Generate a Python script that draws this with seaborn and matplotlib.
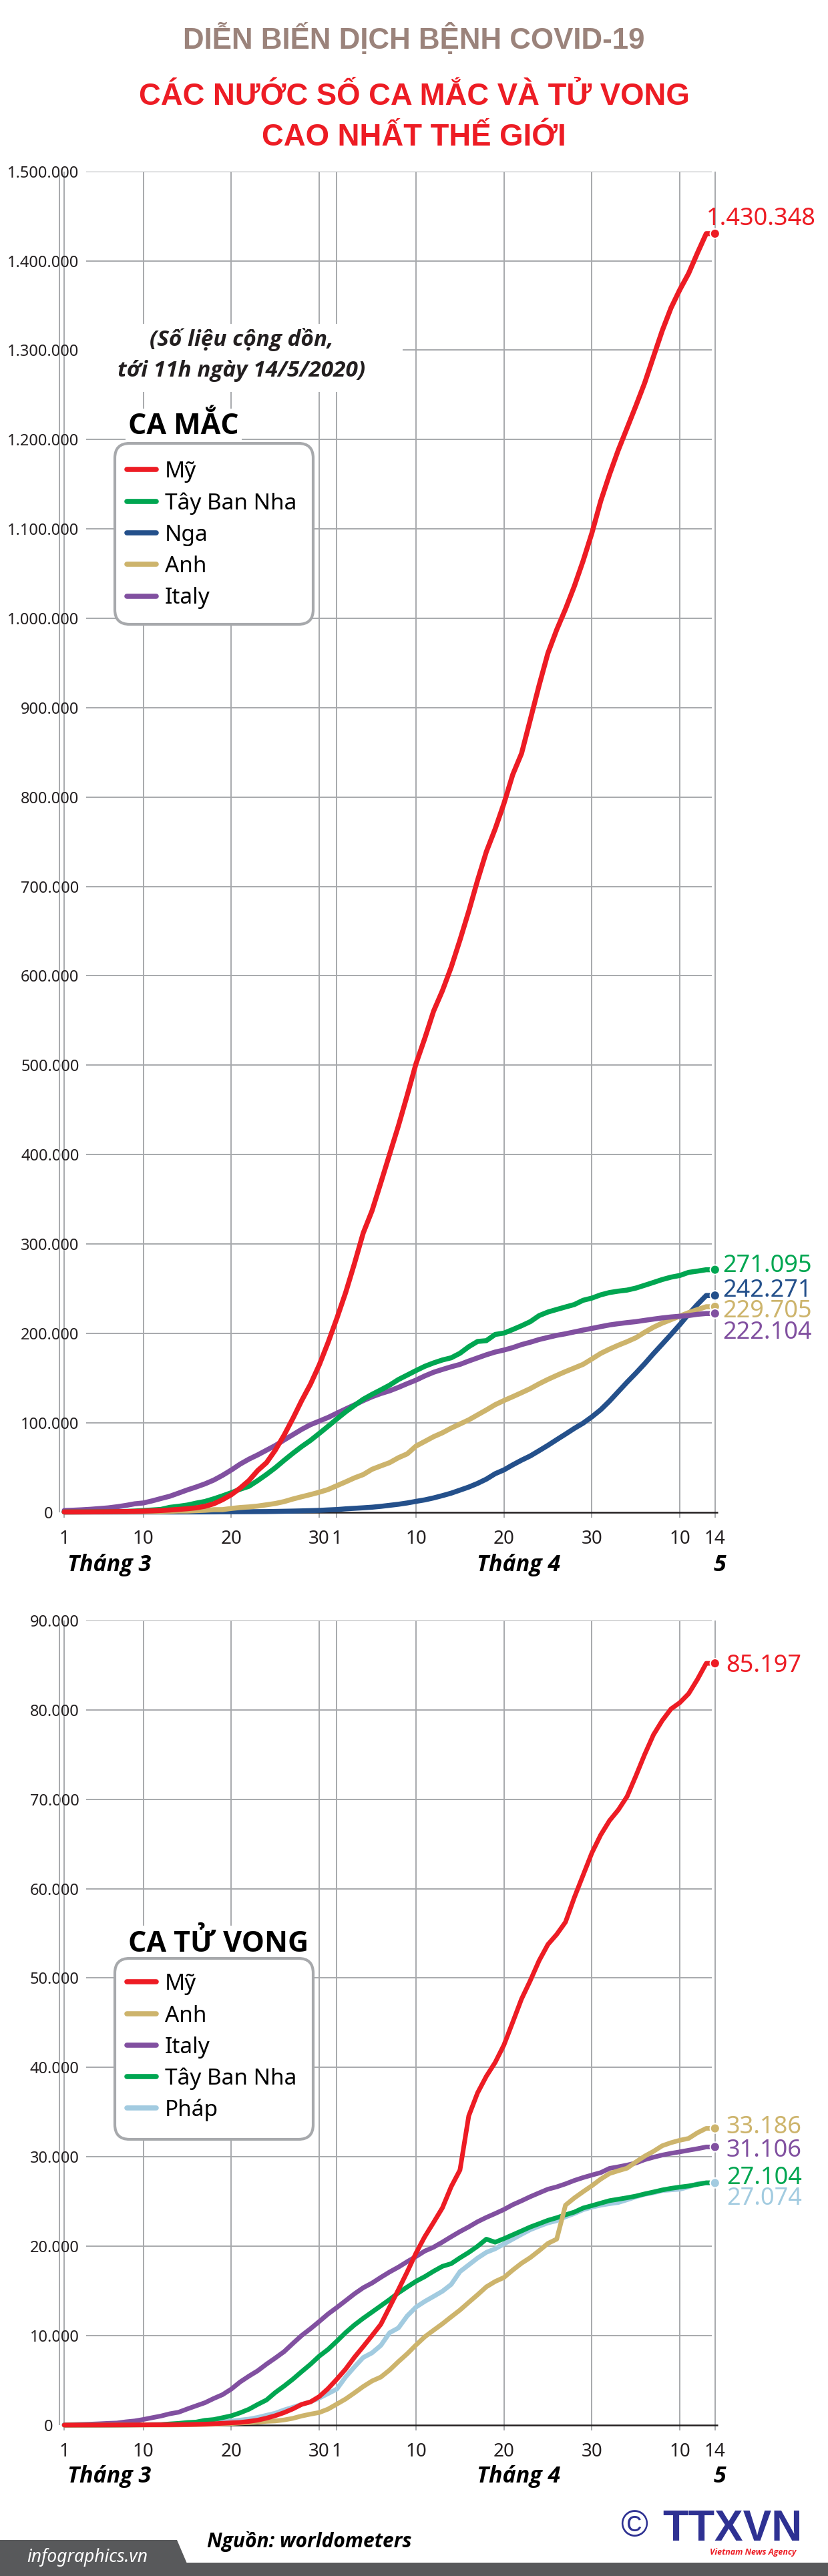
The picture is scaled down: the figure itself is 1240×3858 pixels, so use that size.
import numpy as np
import pandas as pd
import matplotlib
matplotlib.use("Agg")
import matplotlib.pyplot as plt
import seaborn as sns
from matplotlib import font_manager as fm
from matplotlib.transforms import Affine2D
from matplotlib.patches import FancyBboxPatch, Rectangle, Polygon
from matplotlib.lines import Line2D

# ---------------- DATA (values in thousands, Mar 1 .. May 14) ----------------
days = list(range(1, 76))
tick_days = [1, 10, 20, 30, 32, 41, 51, 61, 71, 75]
tick_labels = ["1", "10", "20", "30", "1", "10", "20", "30", "10", "14"]
month_labels = ["Tháng 3", "Tháng 4", "5"]

cases_my = [0.075, 0.100, 0.124, 0.158, 0.221, 0.319, 0.435, 0.541, 0.704, 0.994,
            1.301, 1.697, 2.247, 2.943, 3.680, 4.663, 6.411, 9.197, 13.779, 19.367,
            26.747, 35.206, 46.442, 55.231, 69.194, 85.991, 104.686, 124.665, 143.025, 164.620, 189.618,
            216.722, 245.540, 277.953, 312.245, 337.072, 368.449, 400.335, 432.132, 466.299, 501.615,
            530.006, 560.402, 583.220, 609.516, 640.014, 672.246, 706.779, 738.830, 764.265, 792.759,
            825.041, 848.717, 886.709, 925.038, 960.916, 987.160, 1010.356, 1035.765, 1064.194, 1095.304,
            1131.030, 1160.774, 1188.122, 1212.835, 1237.633, 1263.243, 1292.623, 1321.785, 1347.309, 1367.638,
            1385.834, 1408.636, 1430.348, 1430.348]
cases_tbn = [0.084, 0.120, 0.165, 0.222, 0.259, 0.400, 0.500, 0.673, 1.073, 1.695,
             2.277, 2.950, 5.232, 6.391, 7.798, 9.942, 11.826, 14.769, 18.077, 21.571,
             25.496, 28.768, 35.136, 42.058, 49.515, 57.786, 65.719, 73.235, 80.110, 87.956, 95.923,
             104.118, 112.065, 119.199, 126.168, 131.646, 136.675, 141.942, 148.220, 153.222, 158.273,
             163.027, 166.831, 170.099, 172.541, 177.633, 184.948, 190.839, 191.726, 198.674, 200.210,
             204.178, 208.389, 213.024, 219.764, 223.759, 226.629, 229.422, 232.128, 236.899, 239.369,
             242.988, 245.567, 247.122, 248.301, 250.561, 253.682, 256.855, 260.117, 262.783, 264.663,
             268.143, 269.520, 271.095, 271.095]
cases_nga = [0.002, 0.003, 0.003, 0.003, 0.004, 0.010, 0.014, 0.017, 0.017, 0.020,
             0.028, 0.034, 0.045, 0.059, 0.063, 0.090, 0.114, 0.147, 0.199, 0.253,
             0.306, 0.367, 0.438, 0.495, 0.658, 0.840, 1.036, 1.264, 1.534, 1.836, 2.337,
             2.777, 3.548, 4.149, 4.731, 5.389, 6.343, 7.497, 8.672, 10.131, 11.917,
             13.584, 15.770, 18.328, 21.102, 24.490, 27.938, 32.008, 36.793, 42.853, 47.121,
             52.763, 57.999, 62.773, 68.622, 74.588, 80.949, 87.147, 93.558, 99.399, 106.498,
             114.431, 124.054, 134.687, 145.268, 155.370, 165.929, 177.160, 187.859, 198.676, 209.688,
             221.344, 232.243, 242.271, 242.271]
cases_anh = [0.036, 0.040, 0.051, 0.085, 0.115, 0.163, 0.206, 0.273, 0.321, 0.382,
             0.456, 0.456, 0.798, 1.140, 1.140, 1.543, 1.950, 2.626, 2.689, 3.983,
             5.018, 5.683, 6.650, 8.077, 9.529, 11.658, 14.543, 17.089, 19.522, 22.141, 25.150,
             29.474, 33.718, 38.168, 41.903, 47.806, 51.608, 55.242, 60.733, 65.077, 73.758,
             78.991, 84.279, 88.621, 93.873, 98.476, 103.093, 108.692, 114.217, 120.067, 124.743,
             129.044, 133.495, 138.078, 143.464, 148.377, 152.840, 157.149, 161.145, 165.221, 171.253,
             177.454, 182.260, 186.599, 190.584, 194.990, 201.101, 206.715, 211.364, 215.260, 219.183,
             223.060, 226.463, 229.705, 229.705]
cases_italy = [1.694, 2.036, 2.502, 3.089, 3.858, 4.636, 5.883, 7.375, 9.172, 10.149,
               12.462, 15.113, 17.660, 21.157, 24.747, 27.980, 31.506, 35.713, 41.035, 47.021,
               53.578, 59.138, 63.927, 69.176, 74.386, 80.589, 86.498, 92.472, 97.689, 101.739, 105.792,
               110.574, 115.242, 119.827, 124.632, 128.948, 132.547, 135.586, 139.422, 143.626, 147.577,
               152.271, 156.363, 159.516, 162.488, 165.155, 168.941, 172.434, 175.925, 178.972, 181.228,
               183.957, 187.327, 189.973, 192.994, 195.351, 197.675, 199.414, 201.505, 203.591, 205.463,
               207.428, 209.328, 210.717, 211.938, 213.013, 214.457, 215.858, 217.185, 218.268, 219.070,
               219.814, 221.216, 222.104, 222.104]

deaths_my = [0.001, 0.006, 0.009, 0.011, 0.012, 0.015, 0.019, 0.022, 0.026, 0.030,
             0.038, 0.041, 0.048, 0.057, 0.069, 0.087, 0.110, 0.150, 0.206, 0.255,
             0.301, 0.414, 0.555, 0.780, 1.054, 1.397, 1.812, 2.314, 2.593, 3.193, 4.081,
             5.138, 6.269, 7.588, 8.785, 10.012, 11.268, 13.204, 15.144, 17.134, 19.238,
             21.077, 22.668, 24.294, 26.664, 28.529, 34.590, 37.154, 39.014, 40.555, 42.514,
             45.063, 47.659, 49.724, 51.949, 53.755, 54.881, 56.259, 59.000, 61.500, 64.000,
             66.000, 67.600, 68.800, 70.300, 72.600, 75.000, 77.200, 78.800, 80.100, 80.800,
             81.800, 83.400, 85.197, 85.197]
deaths_anh = [0.000, 0.000, 0.000, 0.000, 0.001, 0.002, 0.002, 0.003, 0.004, 0.006,
              0.008, 0.008, 0.010, 0.021, 0.035, 0.055, 0.071, 0.104, 0.144, 0.177,
              0.233, 0.281, 0.335, 0.422, 0.465, 0.578, 0.759, 1.019, 1.228, 1.408, 1.789,
              2.352, 2.921, 3.605, 4.313, 4.934, 5.373, 6.159, 7.097, 7.978, 8.958,
              9.875, 10.612, 11.329, 12.107, 12.868, 13.729, 14.576, 15.464, 16.060, 16.509,
              17.337, 18.100, 18.738, 19.506, 20.319, 20.800, 24.600, 25.400, 26.100, 26.771,
              27.510, 28.131, 28.446, 28.734, 29.427, 30.076, 30.615, 31.241, 31.587, 31.855,
              32.065, 32.692, 33.186, 33.186]
deaths_italy = [0.034, 0.052, 0.079, 0.107, 0.148, 0.197, 0.233, 0.366, 0.463, 0.631,
                0.827, 1.016, 1.266, 1.441, 1.809, 2.158, 2.503, 2.978, 3.405, 4.032,
                4.825, 5.476, 6.077, 6.820, 7.503, 8.215, 9.134, 10.023, 10.779, 11.591, 12.428,
                13.155, 13.915, 14.681, 15.362, 15.887, 16.523, 17.127, 17.669, 18.279, 18.849,
                19.468, 19.899, 20.465, 21.067, 21.645, 22.170, 22.745, 23.227, 23.660, 24.114,
                24.648, 25.085, 25.549, 25.969, 26.384, 26.644, 26.977, 27.359, 27.682, 27.967,
                28.236, 28.710, 28.884, 29.079, 29.315, 29.684, 29.958, 30.201, 30.395, 30.560,
                30.739, 30.911, 31.106, 31.106]
deaths_tbn = [0.000, 0.000, 0.001, 0.002, 0.003, 0.005, 0.010, 0.017, 0.028, 0.035,
              0.054, 0.055, 0.133, 0.195, 0.289, 0.342, 0.533, 0.623, 0.830, 1.043,
              1.375, 1.772, 2.311, 2.808, 3.647, 4.365, 5.138, 5.982, 6.803, 7.716, 8.464,
              9.387, 10.348, 11.198, 11.947, 12.641, 13.341, 14.045, 14.792, 15.447, 16.081,
              16.606, 17.209, 17.756, 18.056, 18.708, 19.315, 20.002, 20.800, 20.453, 20.852,
              21.282, 21.717, 22.157, 22.524, 22.902, 23.190, 23.521, 23.822, 24.275, 24.543,
              24.824, 25.100, 25.264, 25.428, 25.613, 25.857, 26.070, 26.299, 26.478, 26.621,
              26.744, 26.920, 27.104, 27.104]
deaths_phap = [0.002, 0.003, 0.004, 0.004, 0.006, 0.009, 0.011, 0.019, 0.025, 0.033,
               0.048, 0.061, 0.079, 0.091, 0.127, 0.148, 0.175, 0.264, 0.372, 0.450,
               0.562, 0.674, 0.860, 1.100, 1.331, 1.696, 1.995, 2.314, 2.606, 3.024, 3.523,
               4.032, 5.387, 6.507, 7.560, 8.078, 8.911, 10.328, 10.869, 12.210, 13.197,
               13.832, 14.393, 14.967, 15.729, 17.167, 17.920, 18.681, 19.323, 19.718, 20.265,
               20.796, 21.340, 21.856, 22.245, 22.614, 22.856, 23.293, 23.660, 24.087, 24.376,
               24.594, 24.760, 24.895, 25.201, 25.531, 25.809, 25.987, 26.230, 26.310, 26.380,
               26.643, 26.991, 27.074, 27.074]

cases = {"Mỹ": cases_my, "Tây Ban Nha": cases_tbn, "Nga": cases_nga,
         "Anh": cases_anh, "Italy": cases_italy}
deaths = {"Mỹ": deaths_my, "Anh": deaths_anh, "Italy": deaths_italy,
          "Tây Ban Nha": deaths_tbn, "Pháp": deaths_phap}

colors = {"Mỹ": "#ed1c24", "Tây Ban Nha": "#00a651", "Nga": "#24508b",
          "Anh": "#cdb46c", "Italy": "#8150a0", "Pháp": "#a2cbe0"}

# ---------------- STYLE ----------------
W, H = 1240, 3858
GRID = "#a7a9ac"
INK = "#231f20"

sns.set_theme(style="white")


def _w(f):
    w = f.weight
    if isinstance(w, str):
        w = {"normal": 400, "regular": 400, "book": 400, "medium": 500,
             "semibold": 600, "demibold": 600, "bold": 700, "heavy": 800,
             "extra bold": 800, "black": 900, "light": 300}.get(w, 400)
    return w


def has_face(fam, bold, italic):
    for f in fm.fontManager.ttflist:
        if f.name == fam:
            is_b = _w(f) >= 600
            is_i = f.style in ("italic", "oblique")
            if is_b == bold and is_i == italic:
                return True
    return False


def pick(bold, italic, prefs=("Noto Sans", "Open Sans", "Lato", "Roboto",
                               "Liberation Sans", "DejaVu Sans")):
    for n in prefs:
        if has_face(n, bold, italic):
            return n
    return "DejaVu Sans"


SANS = pick(False, False)
SANS_B = pick(True, False)
SANS_BI = pick(True, True)
SANS_I = pick(False, True)
HEAD = pick(True, False, ("Liberation Sans", "Noto Sans", "DejaVu Sans"))
plt.rcParams["font.family"] = [SANS, "DejaVu Sans"]

fig = plt.figure(figsize=(W / 100, H / 100), dpi=100)
fig.patch.set_facecolor("white")
T = Affine2D().scale(1 / W, -1 / H).translate(0, 1) + fig.transFigure

X0_PX, DX_PX = 96.2, 13.17


def day_at(px):
    return (px - X0_PX) / DX_PX + 1


def fmt(v):
    return f"{int(round(v)):,}".replace(",", ".")


def build_chart(top_px, bot_px, data, order, ymax, ystep, lw, labels_off):
    L, R = 60, 1100
    ax = fig.add_axes([L / W, 1 - bot_px / H, (R - L) / W, (bot_px - top_px) / H])
    ax.set_xlim(day_at(L), day_at(R))
    ax.set_ylim(0, ymax)
    for s in ax.spines.values():
        s.set_visible(False)
    ax.set_facecolor("none")

    rows = []
    for name, vals in data.items():
        for d, v in zip(days, vals):
            rows.append((d, round(v * 1000), name))
    df = pd.DataFrame(rows, columns=["ngay", "so_ca", "nuoc"])

    sns.lineplot(data=df, x="ngay", y="so_ca", hue="nuoc", hue_order=order,
                 palette=colors, linewidth=lw, legend=False, ax=ax, zorder=3)
    for ln in ax.get_lines():
        ln.set_clip_on(False)
        ln.set_solid_capstyle("round")
        ln.set_solid_joinstyle("round")

    last = df[df["ngay"] == df["ngay"].max()]
    sns.scatterplot(data=last, x="ngay", y="so_ca", hue="nuoc", hue_order=order,
                    palette=colors, s=105, edgecolor="white", linewidth=1.5,
                    legend=False, ax=ax, zorder=4)
    for c in ax.collections:
        c.set_clip_on(False)

    yt = np.arange(0, ymax + 1, ystep)
    ax.set_yticks(yt)
    ax.set_yticklabels([""] + [fmt(v) for v in yt[1:]])
    ax.tick_params(axis="y", length=0, pad=-(118.5 - L) * 0.72, labelsize=17,
                   labelcolor=INK)
    ax.text(day_at(79), 0, "0", ha="right", va="center_baseline", fontsize=17,
            color=INK)
    ax.hlines(yt[1:], day_at(128.5), day_at(1066), colors=GRID, lw=1.4, zorder=0.6)
    ax.set_xticks(tick_days)
    ax.set_xticklabels(tick_labels)
    ax.grid(axis="x", color=GRID, lw=1.4)
    ax.grid(axis="y", visible=False)
    ax.set_axisbelow(True)
    ax.axvline(day_at(89), color=GRID, lw=1.4, zorder=0.6)
    ax.tick_params(axis="x", length=8 * 0.72, width=1.4, color=GRID, direction="out",
                   pad=18 * 0.72, labelsize=20, labelcolor=INK, bottom=True)
    ax.hlines(0, day_at(93), day_at(1075), colors=INK, lw=1.8, zorder=2.5,
              clip_on=False)
    ax.set_xlabel("")
    ax.set_ylabel("")

    for name in order:
        v = round(data[name][-1] * 1000)
        dx, dy = labels_off[name]
        ax.annotate(fmt(v), xy=(days[-1], v), xytext=(dx, -dy),
                    textcoords="offset pixels", ha="left", va="baseline",
                    fontsize=26, color=colors[name], fontweight="medium",
                    annotation_clip=False, zorder=5)
    return ax


cases_order = ["Nga", "Anh", "Italy", "Tây Ban Nha", "Mỹ"]
deaths_order = ["Pháp", "Italy", "Tây Ban Nha", "Anh", "Mỹ"]

ax1 = build_chart(256.7, 2264.5, cases, cases_order, 1_500_000, 100_000, 5.4,
                  {"Mỹ": (-13, -13.3), "Tây Ban Nha": (11, 3.4), "Nga": (11, 1.5),
                   "Anh": (11, 16.4), "Italy": (11, 38)})
ax2 = build_chart(2426.8, 3632, deaths, deaths_order, 90_000, 10_000, 5.0,
                  {"Mỹ": (16, 12.5), "Anh": (17, 7.7), "Italy": (17, 14.4),
                   "Tây Ban Nha": (17, 1.9), "Pháp": (17, 33)})

# white box behind the note
ax1.add_patch(Rectangle((126, 485), 477, 102, transform=T, facecolor="white",
                        edgecolor="none", zorder=1.5))


# ---------------- TEXTS ----------------
def ftext(x, y, s, **kw):
    kw.setdefault("va", "baseline")
    return fig.text(x, y, s, transform=T, **kw)


ftext(620, 72.7, "DIỄN BIẾN DỊCH BỆNH COVID-19", family=[HEAD, "DejaVu Sans"],
      fontweight="bold", fontsize=31.6, color="#9b837b", ha="center")
ftext(620, 157, "CÁC NƯỚC SỐ CA MẮC VÀ TỬ VONG", family=[HEAD, "DejaVu Sans"],
      fontweight="bold", fontsize=32.8, color="#ed1c24", ha="center")
ftext(620, 218, "CAO NHẤT THẾ GIỚI", family=[HEAD, "DejaVu Sans"],
      fontweight="bold", fontsize=32.8, color="#ed1c24", ha="center")

ftext(362, 518.3, "(Số liệu cộng dồn,", family=[SANS_BI, "DejaVu Sans"], fontsize=24,
      fontweight="bold", style="italic", ha="center", color=INK)
ftext(362, 564.3, "tới 11h ngày 14/5/2020)", family=[SANS_BI, "DejaVu Sans"], fontsize=24,
      fontweight="bold", style="italic", ha="center", color=INK)


def legend_block(title, title_base, box_top, box_bot, rows_y, names):
    ftext(192, title_base, title, family=[SANS_B, "DejaVu Sans"], fontsize=31,
          fontweight="bold", color="black",
          bbox=dict(facecolor="white", edgecolor="none", pad=3))
    box = FancyBboxPatch((172, box_top), 297, box_bot - box_top,
                         boxstyle="round,pad=0,rounding_size=22", transform=T,
                         facecolor="white", edgecolor=GRID, linewidth=3, zorder=4)
    fig.add_artist(box)
    for y, n in zip(rows_y, names):
        fig.add_artist(Line2D([190, 234], [y, y], transform=T, color=colors[n],
                              lw=5.5, solid_capstyle="round", zorder=5))
        ftext(247, y + 12, n, fontsize=24, color="black", zorder=5)


legend_block("CA MẮC", 650, 664, 935, [703, 751, 798.4, 845.2, 892.5],
             ["Mỹ", "Tây Ban Nha", "Nga", "Anh", "Italy"])
legend_block("CA TỬ VONG", 2922.7, 2933, 3204, [2968.3, 3015.7, 3063.3, 3110, 3157.3],
             ["Mỹ", "Anh", "Italy", "Tây Ban Nha", "Pháp"])

for base in (2353, 3718):
    for x, s in zip((101, 714, 1069), month_labels):
        ftext(x, base, s, family=[SANS_BI, "DejaVu Sans"], fontsize=24.5,
              fontweight="bold", style="italic", color="black")

# ---------------- FOOTER ----------------
fig.add_artist(Rectangle((0, 3838), W, 20, transform=T, facecolor="#58595b",
                         edgecolor="none"))
fig.add_artist(Polygon([(0, 3804), (265, 3804), (288, 3858), (0, 3858)],
                       closed=True, transform=T, facecolor="#58595b",
                       edgecolor="none"))
ftext(40, 3837, "infographics.vn", family=[SANS_I, "DejaVu Sans"], fontsize=19,
      style="italic", color="white")
ftext(310, 3815, "Nguồn: worldometers", family=[SANS_BI, "DejaVu Sans"],
      fontsize=21.6, fontweight="bold", style="italic", color="black")
ftext(950, 3785, "©", family=[HEAD, "DejaVu Sans"], fontsize=40, color="#2e3192",
      ha="center", va="center")
ftext(992, 3805, "TTXVN", family=[HEAD, "DejaVu Sans"], fontsize=46,
      fontweight="bold", color="#2e3192")
ftext(1063, 3826, "Vietnam News Agency", family=[SANS_BI, "DejaVu Sans"],
      fontsize=9, fontweight="bold", style="italic", color="#ed1c24")

fig.savefig("out.png", dpi=100, facecolor="white")
